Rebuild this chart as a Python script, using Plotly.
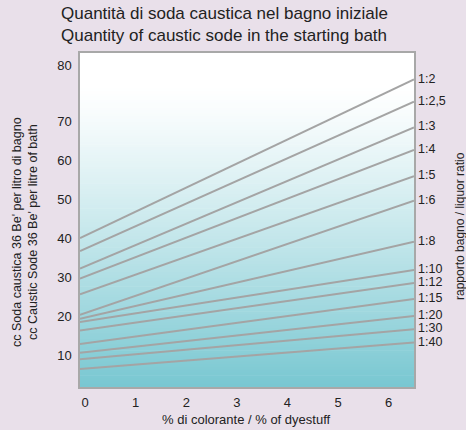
import plotly.graph_objects as go

# ---- data ----
ratios = ["1:2", "1:2,5", "1:3", "1:4", "1:5", "1:6", "1:8", "1:10", "1:12", "1:15", "1:20", "1:30", "1:40"]
soda_start = [40.1, 36.8, 32.3, 29.7, 25.7, 20.4, 19.4, 18.6, 16.4, 12.9, 10.7, 9.0, 6.5]
soda_end = [80.8, 75.1, 68.5, 62.7, 56.0, 49.7, 39.2, 31.9, 28.6, 24.5, 20.1, 16.7, 13.3]
dye_x = [-0.1, 6.5]
x_ticks = [0, 1, 2, 3, 4, 5, 6]
y_tick_vals = [10, 20, 30, 40, 50, 60, 70, 84.5]
y_tick_text = ["10", "20", "30", "40", "50", "60", "70", "80"]

W, H = 466, 430
L, R, T, B = 80, 52, 53, 43
PW, PH = W - L - R, H - T - B

FONT = "Liberation Sans, Arial, Helvetica, sans-serif"
TXT = "#222222"
LINE = "#A4A4A4"
BG = "#E9E0EA"

fig = go.Figure()
for name, a, b in zip(ratios, soda_start, soda_end):
    fig.add_trace(go.Scatter(x=dye_x, y=[a, b], mode="lines", name=name,
                             line=dict(color=LINE, width=2), showlegend=False,
                             hoverinfo="skip"))

# gradient background strips
shapes = []
n = 120
top = (255, 255, 255)
bot = (120, 199, 209)
for i in range(n):
    t = (i + 0.5) / n  # 0 at top, 1 at bottom
    f = max(0.0, (t - 0.1) / 0.9) ** 1.2
    c = tuple(round(top[k] + f * (bot[k] - top[k])) for k in range(3))
    y1 = 1 - i / n
    y0 = 1 - (i + 1) / n
    shapes.append(dict(type="rect", xref="paper", yref="paper", x0=0, x1=1,
                       y0=y0, y1=min(1, y1 + 0.002), fillcolor="rgb(%d,%d,%d)" % c,
                       line=dict(width=0), layer="below"))

def px_x(p):
    return (p - L) / PW

def px_y(p):
    return (H - B - p) / PH

annotations = []
for name, b in zip(ratios, soda_end):
    annotations.append(dict(x=1, xref="paper", y=b, yref="y", text=name,
                            showarrow=False, xanchor="left", yanchor="middle",
                            xshift=3, yshift=1, borderpad=0,
                            font=dict(size=12.5, color=TXT, family=FONT)))

annotations.append(dict(x=px_x(59), y=px_y(2), xref="paper", yref="paper",
                        text="Quantità di soda caustica nel bagno iniziale<br>Quantity of caustic sode in the starting bath",
                        showarrow=False, xanchor="left", yanchor="top", align="left",
                        font=dict(size=17, color=TXT, family=FONT)))
annotations.append(dict(x=px_x(246.5), y=px_y(419), xref="paper", yref="paper",
                        text="% di colorante / % of dyestuff", showarrow=False,
                        xanchor="center", yanchor="middle",
                        font=dict(size=13, color=TXT, family=FONT)))
annotations.append(dict(x=px_x(25), y=px_y(232), xref="paper", yref="paper",
                        text="cc Soda caustica 36 Be' per litro di bagno<br>cc Caustic Sode 36 Be' per litre of bath",
                        showarrow=False, textangle=-90, xanchor="center", yanchor="middle",
                        font=dict(size=12.5, color=TXT, family=FONT)))
annotations.append(dict(x=px_x(460), y=px_y(226), xref="paper", yref="paper",
                        text="rapporto bagno / liquor ratio",
                        showarrow=False, textangle=-90, xanchor="center", yanchor="middle",
                        font=dict(size=12, color=TXT, family=FONT)))

fig.update_layout(
    width=W, height=H,
    margin=dict(l=L, r=R, t=T, b=B, pad=0),
    paper_bgcolor=BG,
    plot_bgcolor="#FFFFFF",
    shapes=shapes,
    annotations=annotations,
    font=dict(family=FONT, color=TXT),
    xaxis=dict(range=[-0.1, 6.5], tickvals=x_ticks, showgrid=False, zeroline=False,
               showline=True, linecolor="#A8A8A8", linewidth=1.5, mirror=True,
               ticks="outside", ticklen=3, tickcolor="rgba(0,0,0,0)",
               tickfont=dict(size=13, color=TXT, family=FONT)),
    yaxis=dict(range=[1.9, 87.6], tickvals=y_tick_vals, ticktext=y_tick_text,
               showgrid=False, zeroline=False,
               showline=True, linecolor="#A8A8A8", linewidth=1.5, mirror=True,
               ticks="outside", ticklen=4, tickcolor="rgba(0,0,0,0)",
               tickfont=dict(size=13, color=TXT, family=FONT)),
)

fig.write_html("out.html", config={"displayModeBar": False},
               post_script="document.body.style.margin='0';document.body.style.background='%s';" % BG)
